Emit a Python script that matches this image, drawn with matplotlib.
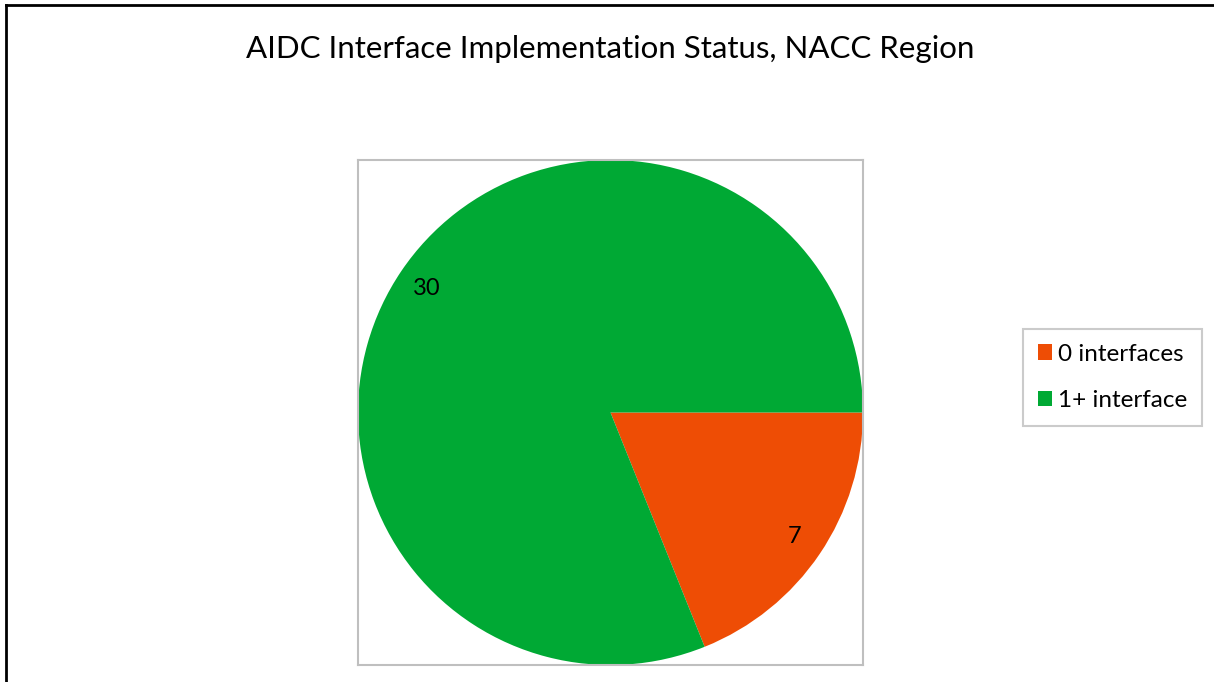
import matplotlib
matplotlib.use("Agg")
from matplotlib import pyplot as plt
from matplotlib.lines import Line2D

# chart data
categories = ["0 interfaces", "1+ interface"]
counts = [7, 30]
colors = ["#EE4D05", "#00A934"]
title = "AIDC Interface Implementation Status, NACC Region"

plt.rcParams["font.family"] = ["Lato", "DejaVu Sans"]

W, H = 1214, 682
fig = plt.figure(figsize=(W / 100, H / 100), dpi=100)

# the pie sits in a square plot area
ax = fig.add_axes([358 / W, 17 / H, 505 / W, 505 / H])
wedges, texts = ax.pie(counts, colors=colors, labels=[str(c) for c in counts],
                       startangle=0, counterclock=False, radius=1.0,
                       labeldistance=0.88, frame=True,
                       wedgeprops=dict(linewidth=0),
                       textprops=dict(fontsize=17, color="black"))
for t in texts:
  t.set_horizontalalignment("center")
  t.set_verticalalignment("center")
ax.set_xlim(-1, 1)
ax.set_ylim(-1, 1)
ax.set_aspect("equal")
ax.set_xticks([])
ax.set_yticks([])
for s in ax.spines.values():
  s.set_color("#BFBFBF")
  s.set_linewidth(1.5)

fig.text(610 / W, 1 - 49 / H, title, ha="center", va="center", fontsize=22.5)

# legend
handles = [plt.Rectangle((0, 0), 1, 1, facecolor=c, edgecolor="none") for c in colors]
leg = fig.legend(handles, categories, loc="center left",
                 bbox_to_anchor=(1023 / W, 1 - 377.5 / H), fontsize=17.5,
                 frameon=True, fancybox=False, handlelength=0.6,
                 handleheight=0.6, handletextpad=0.25, labelspacing=1.05,
                 borderpad=0.6, borderaxespad=0)
leg.get_frame().set_edgecolor("#BFBFBF")
leg.get_frame().set_linewidth(1.5)

# outer border (left and top)
fig.add_artist(Line2D([6 / W, 6 / W], [0, 1 - 5 / H], color="black", linewidth=2,
                      transform=fig.transFigure))
fig.add_artist(Line2D([6 / W, 1], [1 - 5 / H, 1 - 5 / H], color="black", linewidth=2,
                      transform=fig.transFigure))

fig.savefig("out.png", dpi=100)
